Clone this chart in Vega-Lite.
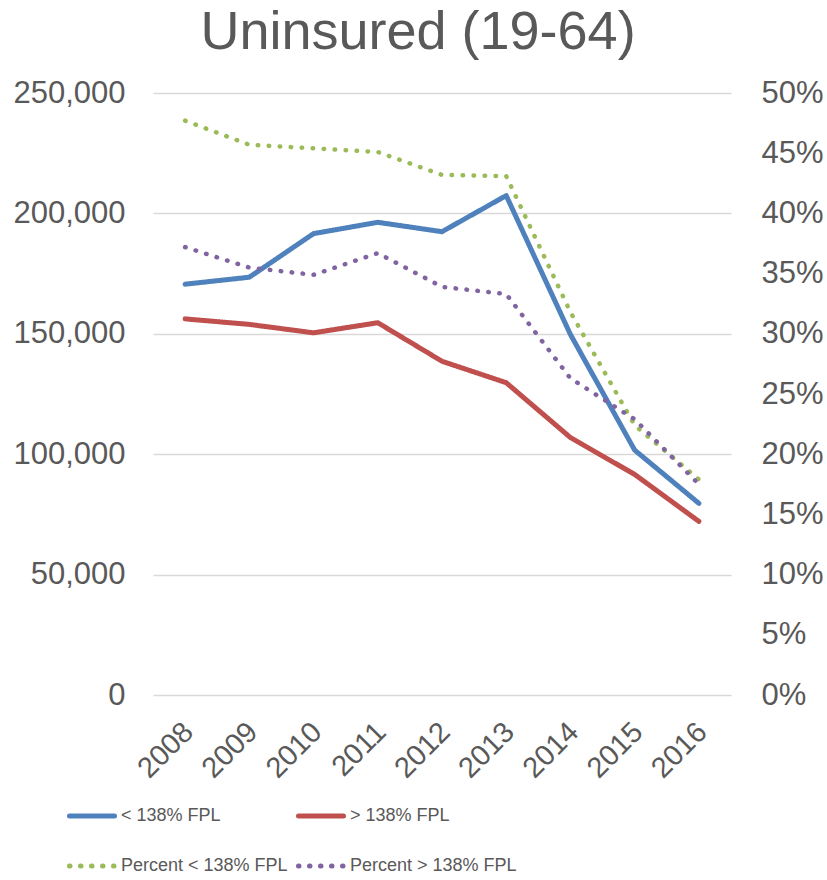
{
  "$schema": "https://vega.github.io/schema/vega-lite/v6.json",
  "width": 578,
  "height": 602,
  "autosize": {"type": "none"},
  "padding": {"left": 153, "top": 93, "right": 96, "bottom": 185},
  "background": "white",
  "title": {"text": "Uninsured (19-64)", "fontSize": 54, "font": "Liberation Sans", "fontWeight": "normal", "color": "#595959", "anchor": "middle", "dx": -24, "offset": 17},
  "data": {"values": [
    {"year": "2008", "series": "< 138% FPL", "value": 170600},
    {"year": "2009", "series": "< 138% FPL", "value": 173500},
    {"year": "2010", "series": "< 138% FPL", "value": 191600},
    {"year": "2011", "series": "< 138% FPL", "value": 196300},
    {"year": "2012", "series": "< 138% FPL", "value": 192400},
    {"year": "2013", "series": "< 138% FPL", "value": 207400},
    {"year": "2014", "series": "< 138% FPL", "value": 149700},
    {"year": "2015", "series": "< 138% FPL", "value": 101700},
    {"year": "2016", "series": "< 138% FPL", "value": 79600},
    {"year": "2008", "series": "> 138% FPL", "value": 156200},
    {"year": "2009", "series": "> 138% FPL", "value": 153900},
    {"year": "2010", "series": "> 138% FPL", "value": 150400},
    {"year": "2011", "series": "> 138% FPL", "value": 154600},
    {"year": "2012", "series": "> 138% FPL", "value": 138600},
    {"year": "2013", "series": "> 138% FPL", "value": 129700},
    {"year": "2014", "series": "> 138% FPL", "value": 106900},
    {"year": "2015", "series": "> 138% FPL", "value": 91600},
    {"year": "2016", "series": "> 138% FPL", "value": 72100},
    {"year": "2008", "series": "Percent < 138% FPL", "value": 0.477},
    {"year": "2009", "series": "Percent < 138% FPL", "value": 0.457},
    {"year": "2010", "series": "Percent < 138% FPL", "value": 0.454},
    {"year": "2011", "series": "Percent < 138% FPL", "value": 0.451},
    {"year": "2012", "series": "Percent < 138% FPL", "value": 0.432},
    {"year": "2013", "series": "Percent < 138% FPL", "value": 0.431},
    {"year": "2014", "series": "Percent < 138% FPL", "value": 0.318},
    {"year": "2015", "series": "Percent < 138% FPL", "value": 0.224},
    {"year": "2016", "series": "Percent < 138% FPL", "value": 0.179},
    {"year": "2008", "series": "Percent > 138% FPL", "value": 0.372},
    {"year": "2009", "series": "Percent > 138% FPL", "value": 0.355},
    {"year": "2010", "series": "Percent > 138% FPL", "value": 0.349},
    {"year": "2011", "series": "Percent > 138% FPL", "value": 0.367},
    {"year": "2012", "series": "Percent > 138% FPL", "value": 0.339},
    {"year": "2013", "series": "Percent > 138% FPL", "value": 0.333},
    {"year": "2014", "series": "Percent > 138% FPL", "value": 0.263},
    {"year": "2015", "series": "Percent > 138% FPL", "value": 0.229},
    {"year": "2016", "series": "Percent > 138% FPL", "value": 0.175}
  ]},
  "encoding": {
    "x": {"field": "year", "type": "ordinal", "scale": {"type": "point", "padding": 0.5},
      "axis": {"title": null, "labelAngle": -45, "labelFontSize": 29, "labelPadding": 22, "labelOffset": -7, "domain": false, "ticks": false, "grid": false}},
    "color": {"field": "series", "type": "nominal",
      "scale": {"domain": ["< 138% FPL", "> 138% FPL", "Percent < 138% FPL", "Percent > 138% FPL"], "range": ["#4F81BD", "#C0504D", "#9BBB59", "#8064A2"]},
      "legend": {"title": null, "encode": {"symbols": {"update": {"strokeCap": {"value": "round"}, "strokeDash": {"signal": "indexof(datum.value, 'Percent') >= 0 ? [0.5, 7.3] : [1, 0]"}}}}}},
    "strokeDash": {"field": "series", "type": "nominal",
      "scale": {"domain": ["< 138% FPL", "> 138% FPL", "Percent < 138% FPL", "Percent > 138% FPL"], "range": [[1, 0], [1, 0], [0.5, 10.5], [0.5, 10.5]]},
      "legend": {"title": null}}
  },
  "layer": [
    {
      "transform": [{"filter": "indexof(datum.series, 'Percent') < 0"}],
      "mark": {"type": "line", "strokeWidth": 5, "strokeCap": "round", "strokeJoin": "round"},
      "encoding": {
        "y": {"field": "value", "type": "quantitative", "scale": {"domain": [0, 250000]},
          "axis": {"title": null, "values": [0, 50000, 100000, 150000, 200000, 250000], "format": ",d", "labelPadding": 28, "domain": false, "ticks": false, "grid": true}}
      }
    },
    {
      "transform": [{"filter": "indexof(datum.series, 'Percent') >= 0"}],
      "mark": {"type": "line", "strokeWidth": 4.5, "strokeCap": "round", "strokeJoin": "round"},
      "encoding": {
        "y": {"field": "value", "type": "quantitative", "scale": {"domain": [0, 0.5]},
          "axis": {"title": null, "orient": "right", "values": [0, 0.05, 0.1, 0.15, 0.2, 0.25, 0.3, 0.35, 0.4, 0.45, 0.5], "format": ".0%", "labelPadding": 30, "domain": false, "ticks": false, "grid": false}}
      }
    }
  ],
  "resolve": {"scale": {"y": "independent"}},
  "config": {
    "view": {"stroke": null},
    "axis": {"labelFont": "Liberation Sans", "labelFontSize": 31, "labelColor": "#595959", "gridColor": "#D9D9D9", "gridWidth": 1.5},
    "legend": {"orient": "none", "direction": "horizontal", "legendX": -86, "legendY": 698, "columns": 2, "symbolType": "stroke", "symbolSize": 2025, "symbolStrokeWidth": 5, "labelFont": "Liberation Sans", "labelFontSize": 18, "labelColor": "#595959", "labelOffset": 4, "columnPadding": 0, "rowPadding": 15, "padding": 0, "labelLimit": 400}
  }
}
